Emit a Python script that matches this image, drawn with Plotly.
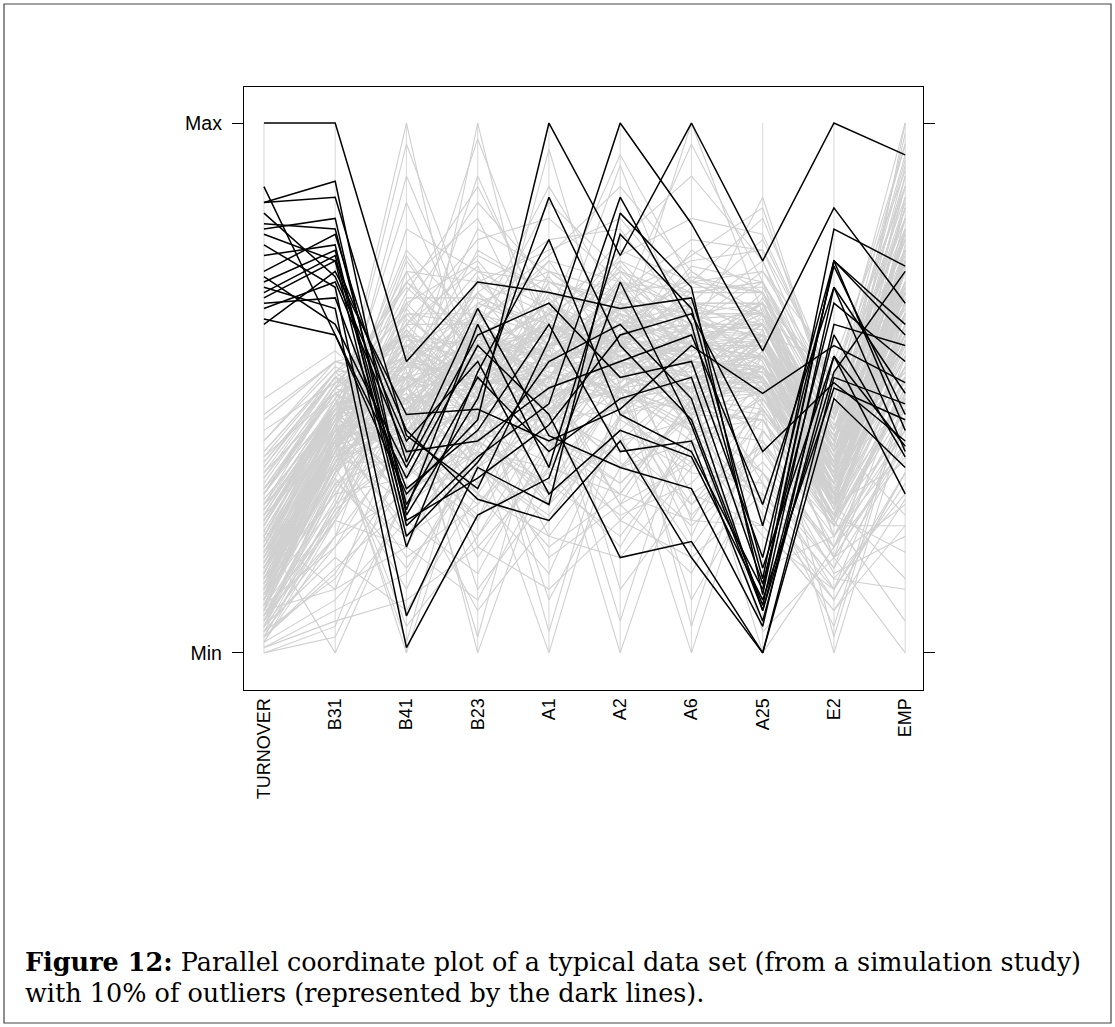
import plotly.graph_objects as go

# ---------------- data ----------------
variables = ["TURNOVER", "B31", "B41", "B23", "A1", "A2", "A6", "A25", "E2", "EMP"]
y_tick_values = [0, 100]
y_tick_labels = ["Min", "Max"]

# outliers (dark lines), scaled 0 (Min) .. 100 (Max)
outliers = [
    [100, 100, 55, 70, 68, 65, 67, 24, 74, 62],
    [88, 60, 30, 44, 100, 75, 100, 74, 100, 94],
    [85, 89, 26, 48, 86, 58, 44, 9, 69, 49],
    [85, 86, 41, 31, 59, 100, 81, 57, 84, 66],
    [80, 82, 24, 37, 47, 86, 62, 14, 80, 73],
    [79, 74, 20, 53, 78, 45, 38, 12, 74, 60],
    [77, 69, 7, 35, 28, 83, 69, 11, 74, 42],
    [72, 79, 36, 65, 41, 35, 31, 5, 62, 58],
    [70, 76, 27, 62, 35, 79, 65, 16, 56, 39],
    [69, 65, 1, 26, 33, 70, 43, 8, 53, 72],
    [67, 74, 42, 29, 25, 40, 18, 0, 52, 47],
    [65, 70, 38, 40, 50, 55, 60, 28, 69, 38],
    [63, 60, 33, 58, 45, 18, 21, 0, 48, 35],
    [62, 72, 45, 46, 40, 46, 58, 49, 58, 51],
    [75, 77, 22, 36, 55, 62, 48, 8, 60, 37],
    [81, 80, 28, 52, 38, 48, 52, 13, 66, 55],
    [66, 67, 31, 42, 62, 38, 40, 6, 56, 30],
    [71, 62, 35, 60, 66, 52, 55, 18, 73, 45],
    [68, 75, 25, 33, 43, 60, 64, 38, 51, 40],
    [83, 71, 40, 55, 30, 42, 37, 10, 50, 44],
]

# regular observations (light lines), scaled 0 (Min) .. 100 (Max)
regular = [
    [12, 40, 55, 48, 62, 50, 58, 56, 30, 66],
    [25, 45, 38, 61, 45, 66, 49, 60, 36, 76],
    [8, 36, 61, 44, 52, 71, 55, 52, 27, 58],
    [31, 50, 44, 70, 58, 47, 63, 64, 41, 52],
    [18, 42, 29, 55, 66, 58, 45, 57, 33, 82],
    [5, 31, 50, 37, 49, 62, 71, 68, 38, 70],
    [22, 46, 66, 52, 40, 55, 52, 50, 25, 62],
    [35, 52, 41, 63, 71, 53, 60, 62, 44, 78],
    [14, 38, 57, 46, 55, 69, 47, 45, 29, 56],
    [28, 47, 35, 58, 61, 44, 66, 66, 35, 72],
    [10, 34, 72, 49, 43, 60, 54, 59, 31, 66],
    [40, 54, 47, 68, 52, 64, 41, 54, 39, 88],
    [16, 41, 53, 40, 68, 51, 62, 61, 22, 50],
    [3, 26, 46, 55, 57, 73, 58, 48, 34, 74],
    [27, 45, 62, 73, 47, 57, 69, 69, 46, 63],
    [20, 43, 33, 51, 63, 49, 51, 51, 28, 80],
    [45, 55, 58, 45, 38, 68, 57, 65, 37, 58],
    [9, 37, 40, 62, 74, 55, 44, 56, 42, 70],
    [33, 50, 69, 57, 54, 61, 65, 47, 26, 54],
    [15, 40, 49, 35, 50, 46, 59, 63, 33, 82],
    [24, 48, 27, 66, 60, 70, 48, 58, 40, 66],
    [7, 29, 64, 50, 45, 58, 73, 70, 30, 60],
    [38, 53, 43, 60, 67, 52, 56, 53, 36, 90],
    [13, 38, 56, 42, 41, 65, 61, 60, 24, 49],
    [29, 45, 37, 71, 56, 48, 50, 67, 45, 74],
    [19, 42, 75, 54, 64, 59, 46, 49, 32, 68],
    [11, 35, 45, 47, 70, 67, 64, 55, 28, 57],
    [42, 51, 52, 64, 48, 54, 53, 62, 39, 84],
    [21, 45, 31, 38, 59, 72, 67, 51, 35, 64],
    [6, 33, 59, 58, 53, 50, 43, 57, 27, 77],
    [34, 52, 48, 50, 44, 63, 58, 64, 43, 60],
    [17, 39, 67, 67, 62, 56, 62, 46, 30, 72],
    [26, 47, 39, 43, 69, 45, 48, 59, 37, 53],
    [4, 28, 54, 53, 51, 68, 70, 68, 33, 80],
    [37, 49, 36, 62, 39, 60, 55, 54, 41, 65],
    [23, 44, 61, 48, 65, 53, 45, 61, 29, 86],
    [12, 37, 42, 59, 57, 74, 60, 50, 25, 59],
    [30, 50, 70, 56, 46, 51, 66, 66, 38, 69],
    [9, 36, 50, 39, 72, 63, 52, 53, 34, 51],
    [48, 57, 45, 65, 55, 57, 57, 58, 44, 76],
    [10, 42, 100, 40, 30, 55, 50, 49, 30, 64],
    [20, 47, 35, 100, 45, 60, 55, 54, 35, 69],
    [15, 38, 60, 45, 95, 50, 45, 59, 28, 74],
    [25, 45, 50, 60, 55, 92, 58, 56, 33, 62],
    [18, 40, 45, 55, 60, 58, 100, 64, 38, 79],
    [30, 47, 55, 48, 52, 62, 60, 86, 45, 72],
    [14, 41, 58, 52, 48, 55, 52, 60, 55, 66],
    [8, 36, 48, 50, 58, 65, 55, 54, 32, 100],
    [0, 5, 40, 55, 50, 60, 48, 49, 30, 59],
    [22, 0, 30, 45, 40, 50, 45, 44, 25, 54],
    [16, 41, 0, 42, 52, 48, 50, 50, 30, 66],
    [28, 47, 52, 0, 38, 55, 52, 52, 35, 62],
    [12, 37, 45, 38, 0, 45, 50, 56, 28, 68],
    [20, 43, 38, 48, 45, 0, 40, 48, 32, 60],
    [10, 39, 55, 52, 48, 42, 0, 42, 25, 64],
    [24, 45, 50, 55, 52, 50, 45, 0, 20, 52],
    [15, 41, 48, 50, 55, 52, 48, 46, 0, 44],
    [30, 49, 42, 45, 50, 55, 50, 50, 18, 0],
    [6, 25, 20, 45, 55, 40, 52, 62, 35, 46],
    [3, 15, 35, 25, 48, 62, 45, 54, 22, 42],
    [14, 30, 48, 30, 15, 45, 55, 51, 30, 56],
    [19, 35, 12, 40, 52, 28, 48, 59, 28, 48],
    [9, 20, 42, 55, 30, 50, 22, 50, 18, 39],
    [2, 10, 25, 15, 40, 35, 50, 34, 12, 32],
    [26, 40, 55, 20, 35, 58, 42, 29, 10, 34],
    [11, 28, 38, 48, 22, 18, 35, 56, 40, 26],
    [17, 38, 18, 28, 45, 55, 30, 24, 8, 29],
    [7, 22, 30, 35, 25, 40, 20, 39, 15, 22],
    [23, 12, 45, 60, 42, 25, 38, 49, 26, 19],
    [5, 18, 8, 30, 50, 48, 28, 44, 20, 37],
    [13, 35, 52, 12, 30, 42, 55, 32, 5, 49],
    [29, 45, 28, 50, 10, 35, 45, 54, 30, 59],
    [1, 8, 15, 38, 32, 22, 40, 22, 12, 44],
    [20, 42, 40, 25, 58, 12, 30, 39, 24, 24],
    [10, 32, 22, 42, 28, 50, 10, 34, 16, 52],
    [34, 48, 60, 35, 20, 30, 48, 16, 22, 39],
    [8, 25, 45, 18, 38, 60, 25, 46, 28, 14],
    [15, 40, 5, 22, 45, 38, 52, 26, 10, 34],
    [4, 14, 32, 8, 25, 45, 35, 52, 32, 54],
    [21, 42, 50, 40, 18, 28, 15, 42, 25, 46],
    [12, 43, 85, 55, 48, 62, 58, 59, 35, 74],
    [25, 47, 50, 90, 60, 52, 60, 52, 30, 69],
    [18, 45, 62, 78, 82, 70, 55, 62, 40, 84],
    [8, 40, 45, 65, 75, 88, 72, 64, 36, 66],
    [30, 51, 58, 50, 62, 78, 90, 74, 42, 79],
    [15, 43, 70, 82, 55, 65, 75, 84, 45, 93],
    [22, 47, 48, 60, 85, 72, 64, 66, 52, 88],
    [10, 38, 80, 72, 65, 58, 68, 68, 48, 96],
    [35, 53, 65, 85, 70, 66, 60, 60, 38, 76],
    [5, 34, 55, 68, 78, 80, 62, 70, 44, 85],
    [19, 44, 76, 62, 58, 75, 82, 79, 50, 82],
    [28, 50, 60, 75, 68, 62, 70, 72, 55, 91],
    [13, 40, 90, 58, 52, 70, 65, 62, 40, 72],
    [40, 55, 52, 80, 72, 68, 78, 76, 46, 94],
    [16, 43, 68, 88, 62, 55, 58, 64, 35, 80],
    [24, 47, 72, 70, 76, 82, 66, 66, 42, 68],
    [11, 41, 42, 52, 48, 56, 50, 58, 30, 62],
    [27, 46, 56, 44, 54, 60, 56, 52, 34, 70],
    [6, 32, 38, 58, 60, 52, 62, 62, 38, 58],
    [32, 51, 64, 62, 50, 66, 54, 56, 32, 74],
    [14, 39, 48, 46, 64, 48, 46, 64, 28, 52],
    [20, 44, 58, 56, 42, 58, 64, 59, 40, 78],
    [3, 27, 52, 50, 56, 64, 52, 49, 26, 64],
    [36, 52, 40, 54, 62, 54, 58, 66, 42, 67],
    [17, 42, 54, 64, 46, 50, 60, 54, 30, 56],
    [9, 35, 60, 42, 58, 62, 48, 60, 35, 72],
    [25, 46, 46, 60, 66, 56, 55, 62, 38, 61],
    [12, 38, 65, 48, 52, 68, 62, 52, 28, 76],
    [44, 55, 50, 58, 56, 52, 50, 58, 36, 70],
    [7, 32, 44, 62, 50, 60, 66, 64, 40, 66],
    [21, 45, 52, 45, 60, 46, 54, 56, 32, 54],
    [16, 40, 63, 54, 44, 64, 58, 50, 29, 80],
    [30, 49, 37, 66, 62, 58, 52, 62, 41, 64],
    [10, 37, 56, 50, 54, 55, 60, 59, 33, 73],
    [23, 45, 47, 58, 48, 62, 48, 54, 36, 60],
    [2, 22, 58, 46, 60, 50, 56, 66, 30, 68],
    [38, 53, 54, 52, 58, 60, 62, 60, 39, 84],
    [13, 39, 44, 60, 52, 66, 46, 52, 27, 62],
    [26, 47, 62, 48, 64, 54, 58, 58, 37, 75],
    [8, 34, 51, 56, 46, 58, 64, 56, 34, 66],
    [18, 38, 28, 38, 35, 48, 42, 40, 22, 44],
    [5, 22, 40, 28, 42, 32, 45, 44, 26, 50],
    [12, 30, 33, 45, 30, 40, 28, 38, 18, 40],
    [28, 42, 22, 32, 48, 35, 40, 48, 30, 56],
    [9, 26, 48, 35, 26, 44, 36, 30, 14, 30],
    [16, 36, 36, 22, 40, 30, 48, 42, 24, 48],
    [3, 16, 28, 42, 36, 26, 32, 46, 28, 36],
    [22, 43, 42, 30, 22, 40, 44, 34, 20, 42],
    [14, 33, 16, 35, 44, 46, 26, 40, 18, 28],
    [7, 27, 38, 26, 34, 20, 42, 50, 32, 60],
    [31, 46, 30, 48, 28, 42, 34, 32, 16, 38],
    [11, 34, 46, 32, 46, 36, 24, 36, 20, 46],
    [19, 40, 24, 40, 32, 50, 40, 28, 12, 34],
    [4, 20, 34, 46, 40, 32, 46, 44, 24, 50],
    [25, 44, 40, 36, 50, 28, 36, 46, 26, 42],
    [15, 42, 54, 66, 72, 62, 56, 68, 44, 78],
    [33, 52, 46, 56, 66, 74, 68, 70, 48, 86],
    [10, 38, 66, 74, 58, 60, 72, 62, 38, 70],
    [20, 45, 58, 52, 70, 66, 64, 74, 46, 82],
    [6, 31, 50, 70, 64, 72, 58, 66, 40, 74],
    [27, 48, 70, 60, 56, 58, 76, 68, 42, 88],
    [13, 41, 52, 76, 68, 64, 60, 62, 36, 64],
    [37, 53, 60, 58, 74, 70, 62, 72, 50, 80],
    [17, 44, 64, 64, 60, 76, 70, 64, 44, 90],
    [2, 25, 56, 60, 66, 60, 66, 60, 34, 68],
    [24, 47, 48, 68, 58, 68, 74, 76, 52, 76],
    [11, 39, 74, 56, 62, 56, 58, 58, 36, 72],
    [30, 50, 56, 72, 70, 62, 64, 64, 40, 92],
    [8, 36, 62, 62, 54, 70, 68, 70, 46, 78],
    [19, 44, 50, 58, 64, 58, 60, 66, 38, 66],
    [14, 40, 2, 50, 55, 48, 52, 54, 30, 64],
    [22, 46, 48, 3, 52, 55, 50, 52, 32, 60],
    [9, 36, 50, 52, 4, 50, 56, 56, 30, 70],
    [26, 47, 44, 56, 50, 6, 48, 50, 28, 54],
    [5, 28, 52, 48, 54, 56, 5, 48, 26, 62],
    [17, 42, 46, 54, 48, 52, 50, 4, 18, 56],
    [31, 49, 56, 50, 56, 58, 54, 52, 3, 48],
    [12, 38, 42, 46, 52, 50, 52, 54, 25, 6],
    [0, 3, 30, 40, 45, 50, 42, 44, 25, 49],
    [8, 12, 20, 10, 35, 30, 25, 24, 8, 24],
    [1, 6, 10, 20, 12, 25, 18, 30, 14, 12],
    [18, 42, 96, 60, 50, 58, 56, 56, 34, 68],
    [24, 46, 56, 97, 62, 56, 60, 58, 36, 72],
    [12, 40, 50, 62, 88, 66, 58, 60, 38, 76],
    [30, 49, 54, 58, 64, 94, 70, 64, 40, 80],
    [15, 42, 52, 56, 60, 66, 96, 70, 44, 84],
    [20, 44, 58, 64, 56, 62, 70, 82, 50, 88],
    [9, 36, 48, 56, 62, 58, 64, 64, 52, 96],
    [36, 52, 60, 54, 58, 62, 66, 78, 50, 100],
    [10, 38, 44, 50, 54, 60, 62, 62, 40, 98],
]

# ---------------- figure ----------------
W, H = 1115, 1027
PX_L, PX_R, PX_T, PX_B = 244, 923, 87, 690

fig = go.Figure()

# vertical axis lines for each variable
ax_x, ax_y = [], []
for v in variables:
    ax_x += [v, v, None]
    ax_y += [y_tick_values[0], y_tick_values[1], None]
fig.add_trace(go.Scatter(x=ax_x, y=ax_y, mode="lines",
                         line=dict(color="#dedede", width=1.2),
                         hoverinfo="skip", showlegend=False))

# regular observations
gx, gy = [], []
for row in regular:
    gx += variables + [None]
    gy += row + [None]
fig.add_trace(go.Scatter(x=gx, y=gy, mode="lines",
                         line=dict(color="#d0d0d0", width=1.1),
                         hoverinfo="skip", showlegend=False))

# outliers
for row in outliers:
    fig.add_trace(go.Scatter(x=variables, y=row, mode="lines",
                             line=dict(color="black", width=1.5),
                             hoverinfo="skip", showlegend=False))

x_font = dict(family="Liberation Sans, Arial, sans-serif", size=18, color="black")
y_font = dict(family="Liberation Sans, Arial, sans-serif", size=19.5, color="black")
cap_font = dict(family="DejaVu Serif, Liberation Serif, serif", size=25.5, color="black")

fig.update_layout(
    width=W, height=H,
    margin=dict(l=0, r=0, t=0, b=0),
    paper_bgcolor="white", plot_bgcolor="white",
    xaxis=dict(
        domain=[PX_L / W, PX_R / W],
        type="category",
        categoryorder="array", categoryarray=variables,
        range=[-0.28, 9.25],
        showgrid=False, zeroline=False,
        showline=True, mirror=True, linecolor="black", linewidth=1.3,
        ticks="", tickangle=-90, tickfont=x_font,
        ticklabelstandoff=0,
    ),
    yaxis=dict(
        domain=[1 - PX_B / H, 1 - PX_T / H],
        range=[-7.0, 106.8],
        tickmode="array", tickvals=y_tick_values, ticktext=y_tick_labels,
        showgrid=False, zeroline=False,
        showline=True, mirror="ticks", linecolor="black", linewidth=1.3,
        ticks="outside", ticklen=11, tickwidth=1.3, tickcolor="black",
        tickfont=y_font, ticklabelstandoff=6,
    ),
    shapes=[dict(type="rect", xref="paper", yref="paper",
                 x0=4 / W, x1=1111 / W, y0=1 - 1023 / H, y1=1 - 4 / H,
                 line=dict(color="#444444", width=1.2))],
    annotations=[
        dict(xref="paper", yref="paper", x=23 / W, y=1 - 962 / H,
             xanchor="left", yanchor="middle", showarrow=False,
             text="<b>Figure 12:</b> Parallel coordinate plot of a typical data set (from a simulation study)",
             font=cap_font),
        dict(xref="paper", yref="paper", x=23 / W, y=1 - 993 / H,
             xanchor="left", yanchor="middle", showarrow=False,
             text="with 10% of outliers (represented by the dark lines).",
             font=cap_font),
    ],
)

fig.write_html("out.html")
